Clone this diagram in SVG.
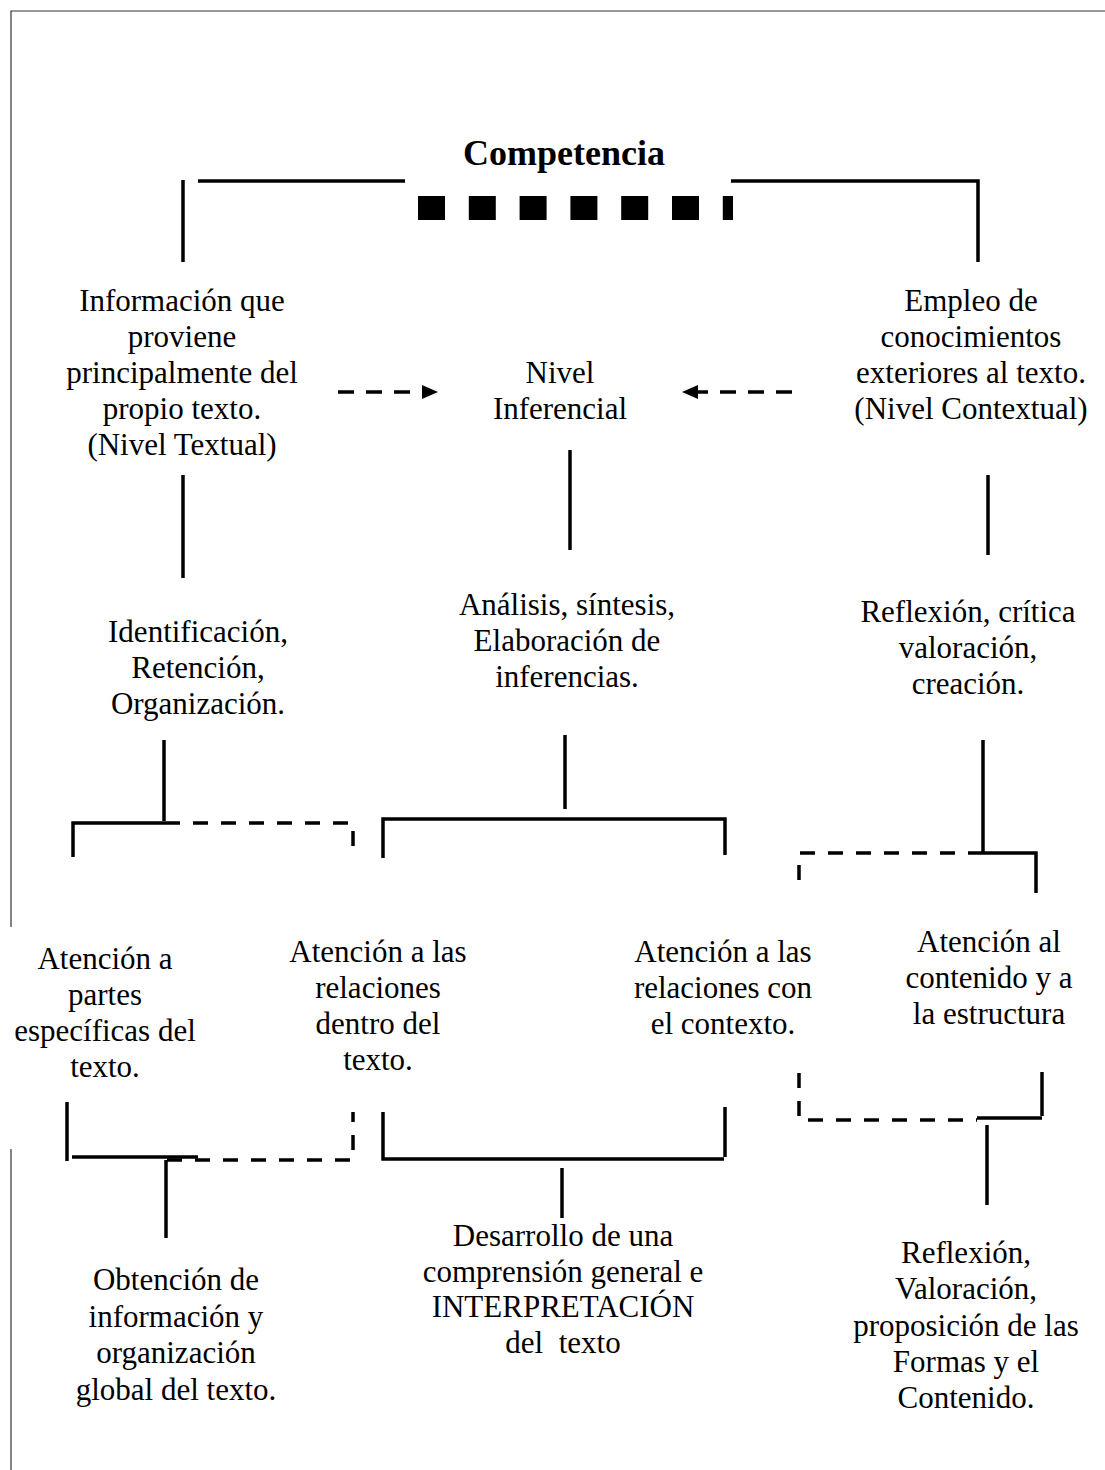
<svg xmlns="http://www.w3.org/2000/svg" width="1105" height="1470" viewBox="0 0 1105 1470">
<style>
.t{font-family:"Liberation Serif","Times New Roman",serif;font-size:31px;text-anchor:middle;fill:#000}
.title{font-family:"Liberation Serif","Times New Roman",serif;font-size:36px;font-weight:bold;text-anchor:middle;fill:#000}
.s{fill:none;stroke:#000;stroke-width:3.5}
.d{fill:none;stroke:#000;stroke-width:3.5;stroke-dasharray:15 13}
.a{fill:none;stroke:#000;stroke-width:3.5;stroke-dasharray:16 12}
.border{fill:none;stroke:#333;stroke-width:1.2}
</style>
<rect width="1105" height="1470" fill="#fff"/>
<g id="page-border">
<polyline class="border" points="11,927 11,11 1105,11"/>
<line class="border" x1="11" y1="1149" x2="11" y2="1470"/>
</g>
<g id="competencia">
<text class="title" x="564" y="165">Competencia</text>
</g>
<g id="connectors">
<line class="s" x1="198" y1="181" x2="405" y2="181"/>
<line class="s" x1="183" y1="180" x2="183" y2="262"/>
<polyline class="s" points="731,181 978,181 978,262"/>
<line x1="418" y1="208" x2="733" y2="208" stroke="#000" stroke-width="24" stroke-dasharray="27 23.8"/>
<line class="a" x1="338" y1="392" x2="423" y2="392"/>
<polygon points="422,385 438,392 422,399" fill="#000"/>
<line class="a" x1="792" y1="392" x2="698" y2="392"/>
<polygon points="698,385 682,392 698,399" fill="#000"/>
<line class="s" x1="183" y1="475" x2="183" y2="578"/>
<line class="s" x1="570" y1="450" x2="570" y2="550"/>
<line class="s" x1="988" y1="475" x2="988" y2="555"/>
<line class="s" x1="164" y1="740" x2="164" y2="821"/>
<polyline class="s" points="73,857 73,823 165,823"/>
<polyline class="d" points="165,823 353,823 353,858"/>
<line class="s" x1="565" y1="735" x2="565" y2="809"/>
<polyline class="s" points="383,858 383,819 725,819 725,855"/>
<line class="s" x1="983" y1="740" x2="983" y2="853"/>
<polyline class="d" points="983,853 799,853 799,891"/>
<polyline class="s" points="983,853 1036,853 1036,893"/>
<line class="s" x1="67" y1="1102" x2="67" y2="1161"/>
<line class="s" x1="72" y1="1157" x2="198" y2="1157"/>
<polyline class="d" points="167,1160 353,1160 353,1112"/>
<line class="s" x1="166" y1="1160" x2="166" y2="1238"/>
<polyline class="s" points="383,1112 383,1159 724,1159"/>
<line class="s" x1="725" y1="1107" x2="725" y2="1157"/>
<line class="s" x1="562" y1="1168" x2="562" y2="1218"/>
<polyline class="d" points="799,1073 799,1120 977,1120"/>
<line class="s" x1="977" y1="1118" x2="1042" y2="1118"/>
<line class="s" x1="1042" y1="1072" x2="1042" y2="1116"/>
<line class="s" x1="987" y1="1125" x2="987" y2="1205"/>
</g>
<g id="nivel-textual">
<text class="t" x="182" y="311">Información que</text>
<text class="t" x="182" y="347">proviene</text>
<text class="t" x="182" y="383">principalmente del</text>
<text class="t" x="182" y="419">propio texto.</text>
<text class="t" x="182" y="455">(Nivel Textual)</text>
</g>
<g id="nivel-inferencial">
<text class="t" x="560" y="383">Nivel</text>
<text class="t" x="560" y="419">Inferencial</text>
</g>
<g id="nivel-contextual">
<text class="t" x="971" y="311">Empleo de</text>
<text class="t" x="971" y="347">conocimientos</text>
<text class="t" x="971" y="383">exteriores al texto.</text>
<text class="t" x="971" y="419">(Nivel Contextual)</text>
</g>
<g id="identificacion">
<text class="t" x="198" y="642">Identificación,</text>
<text class="t" x="198" y="678">Retención,</text>
<text class="t" x="198" y="714">Organización.</text>
</g>
<g id="analisis">
<text class="t" x="567" y="615">Análisis, síntesis,</text>
<text class="t" x="567" y="651">Elaboración de</text>
<text class="t" x="567" y="687">inferencias.</text>
</g>
<g id="reflexion-critica">
<text class="t" x="968" y="622">Reflexión, crítica</text>
<text class="t" x="968" y="658">valoración,</text>
<text class="t" x="968" y="694">creación.</text>
</g>
<g id="atencion-partes">
<text class="t" x="105" y="969">Atención a</text>
<text class="t" x="105" y="1005">partes</text>
<text class="t" x="105" y="1041">específicas del</text>
<text class="t" x="105" y="1077">texto.</text>
</g>
<g id="atencion-relaciones-dentro">
<text class="t" x="378" y="962">Atención a las</text>
<text class="t" x="378" y="998">relaciones</text>
<text class="t" x="378" y="1034">dentro del</text>
<text class="t" x="378" y="1070">texto.</text>
</g>
<g id="atencion-relaciones-contexto">
<text class="t" x="723" y="962">Atención a las</text>
<text class="t" x="723" y="998">relaciones con</text>
<text class="t" x="723" y="1034">el contexto.</text>
</g>
<g id="atencion-contenido">
<text class="t" x="989" y="952">Atención al</text>
<text class="t" x="989" y="988">contenido y a</text>
<text class="t" x="989" y="1024">la estructura</text>
</g>
<g id="obtencion">
<text class="t" x="176" y="1290">Obtención de</text>
<text class="t" x="176" y="1327">información y</text>
<text class="t" x="176" y="1363">organización</text>
<text class="t" x="176" y="1400">global del texto.</text>
</g>
<g id="desarrollo">
<text class="t" x="563" y="1246">Desarrollo de una</text>
<text class="t" x="563" y="1282">comprensión general e</text>
<text class="t" x="563" y="1317">INTERPRETACIÓN</text>
<text class="t" x="563" y="1353" xml:space="preserve">del  texto</text>
</g>
<g id="reflexion-valoracion">
<text class="t" x="966" y="1263">Reflexión,</text>
<text class="t" x="966" y="1299">Valoración,</text>
<text class="t" x="966" y="1336">proposición de las</text>
<text class="t" x="966" y="1372">Formas y el</text>
<text class="t" x="966" y="1408">Contenido.</text>
</g>
</svg>
